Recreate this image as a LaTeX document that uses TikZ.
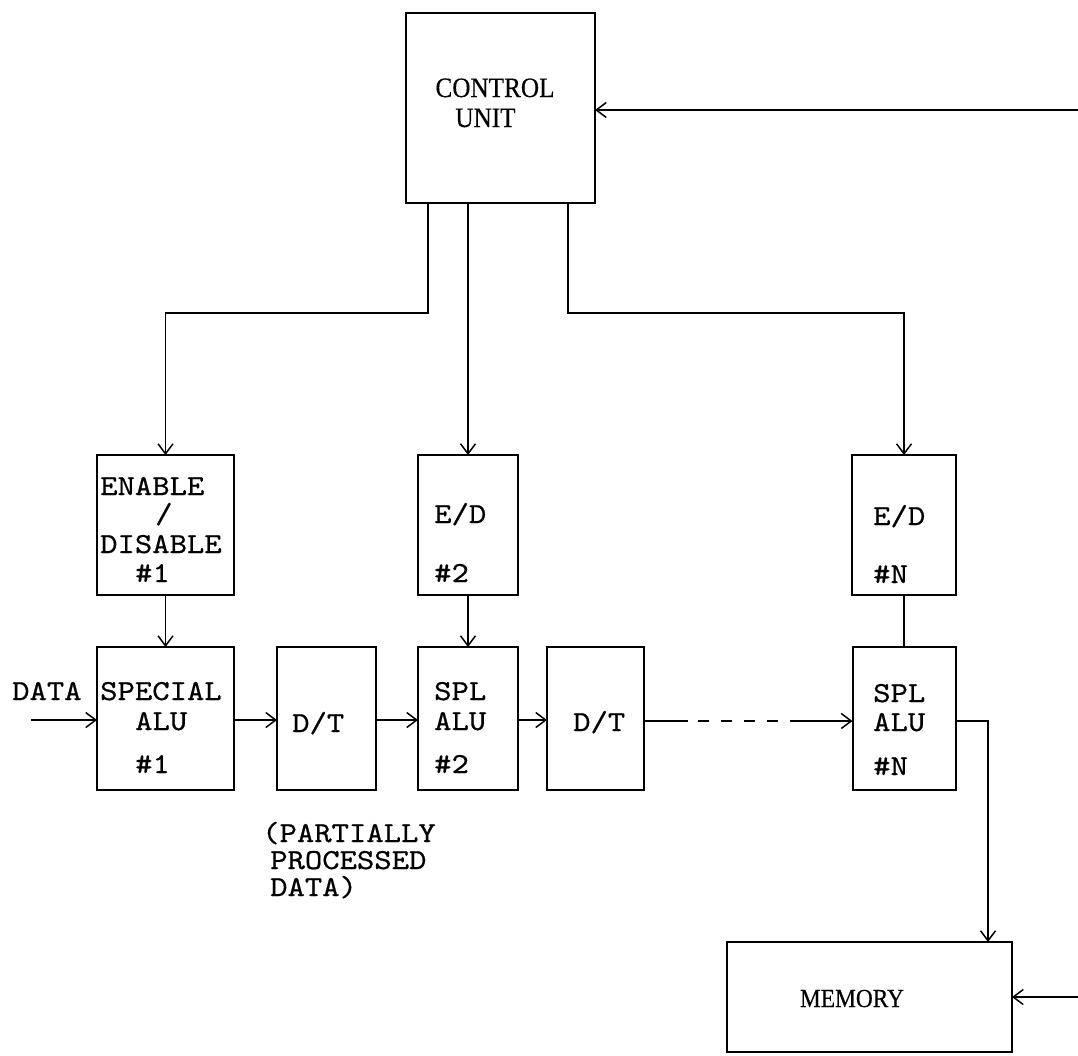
\documentclass[tikz,border=0pt]{standalone}
\usepackage{fontspec}
\usetikzlibrary{arrows.meta,calc}
\newfontfamily\twfont[FakeStretch=1.14,FakeBold=0.6]{lmmono10-regular.otf}
\newfontfamily\rmlabel[FakeBold=0.4,FakeStretch=0.9]{Liberation Serif}
\begin{document}
\begin{tikzpicture}[x=1pt,y=-1pt,
  blk/.style={draw,line width=2pt,inner sep=0pt,outer sep=0pt},
  conn/.style={line width=1.6pt},
  arr/.style={conn,-{Straight Barb[length=10pt,width=15pt,line width=1.5pt]}},
  tw/.style={inner sep=0pt,anchor=base west,font=\twfont\fontsize{29}{29}\selectfont},
  rl/.style={inner sep=0pt,anchor=base,font=\rmlabel\fontsize{28}{30}\selectfont}]
\useasboundingbox[fill=white] (0,0) rectangle (1078,1055);
% boxes
\node[blk,minimum width=189pt,minimum height=190pt] (cu) at (500.5,108) {};
\node[blk,minimum width=137pt,minimum height=140pt] (ed1) at (165.5,525) {};
\node[blk,minimum width=100pt,minimum height=140pt] (ed2) at (468,525) {};
\node[blk,minimum width=104pt,minimum height=140pt] (edn) at (904,525) {};
\node[blk,minimum width=137pt,minimum height=143pt] (alu1) at (165.5,718.5) {};
\node[blk,minimum width=99pt,minimum height=143pt] (dt1) at (326.5,718.5) {};
\node[blk,minimum width=100pt,minimum height=143pt] (alu2) at (468,718.5) {};
\node[blk,minimum width=97pt,minimum height=143pt] (dt2) at (595.5,718.5) {};
\node[blk,minimum width=103pt,minimum height=143pt] (alun) at (904,718.5) {};
\node[blk,minimum width=285pt,minimum height=110pt] (mem) at (869.5,997) {};
% texts
\node[rl] (tcu1) at (495,97) {CONTROL};
\node[rl] (tcu2) at (485.5,127) {UNIT};
\node[tw] (te1a) at (100,495) {ENABLE};
\node[tw] (te1b) at (155,523) {/};
\node[tw] (te1c) at (100,553) {DISABLE};
\node[tw] (te1d) at (135,582) {\#1};
\node[tw] (te2a) at (434,523) {E/D};
\node[tw] (te2b) at (434,582) {\#2};
\node[tw] (tena) at (873,525) {E/D};
\node[tw] (tenb) at (873,583) {\#N};
\node[tw] (ta1a) at (100,700) {SPECIAL};
\node[tw] (ta1b) at (135,730) {ALU};
\node[tw] (ta1c) at (135,773) {\#1};
\node[tw] (ta2a) at (434,700) {SPL};
\node[tw] (ta2b) at (434,730) {ALU};
\node[tw] (ta2c) at (434,773) {\#2};
\node[tw] (tana) at (873,702) {SPL};
\node[tw] (tanb) at (873,731) {ALU};
\node[tw] (tanc) at (873,775) {\#N};
\node[tw] (tdt1) at (292,732) {D/T};
\node[tw] (tdt2) at (573,731) {D/T};
\node[tw] (tdata) at (12,700) {DATA};
\node[tw] (tp1) at (262,842) {(PARTIALLY};
\node[tw] (tp2) at (270,869) {PROCESSED};
\node[tw] (tp3) at (270,896) {DATA)};
\node[rl,font=\rmlabel\fontsize{26}{30}\selectfont] (tmem) at (852,1007) {MEMORY};
% connectors from control unit
\coordinate (c1) at (428,313);
\coordinate (c3) at (568,313);
\draw[arr] (c1 |- cu.south) -- (c1) -| (ed1.north);
\draw[arr] (ed2.north |- cu.south) -- (ed2.north);
\draw[arr] (c3 |- cu.south) -- (c3) -| (edn.north);
% enable lines
\draw[arr] (ed1.south) -- (alu1.north);
\draw[arr] (ed2.south) -- (alu2.north);
\draw[conn] (edn.south) -- (alun.north);
% data path
\coordinate (din) at (31,720);
\draw[arr] (din) -- (din -| alu1.west);
\draw[arr] (alu1.east |- din) -- (din -| dt1.west);
\draw[arr] (dt1.east |- din) -- (din -| alu2.west);
\draw[arr] (alu2.east |- din) -- (din -| dt2.west);
\coordinate (da) at (688,721);
\coordinate (db) at (796,721);
\draw[conn] (da -| dt2.east) -- (da);
\draw[conn,dash pattern=on 11pt off 12pt,dash phase=-10pt] (da) -- (db);
\draw[arr] (db) -- (db -| alun.west);
% to memory
\coordinate (m1) at (988,721);
\draw[arr] (m1 -| alun.east) -- (m1) -- (m1 |- mem.north);
% feedback inputs
\coordinate (fb) at (1078,110);
\draw[arr] (fb) -- (fb -| cu.east);
\coordinate (fm) at (1078,997);
\draw[arr] (fm) -- (fm -| mem.east);
\end{tikzpicture}
\end{document}
